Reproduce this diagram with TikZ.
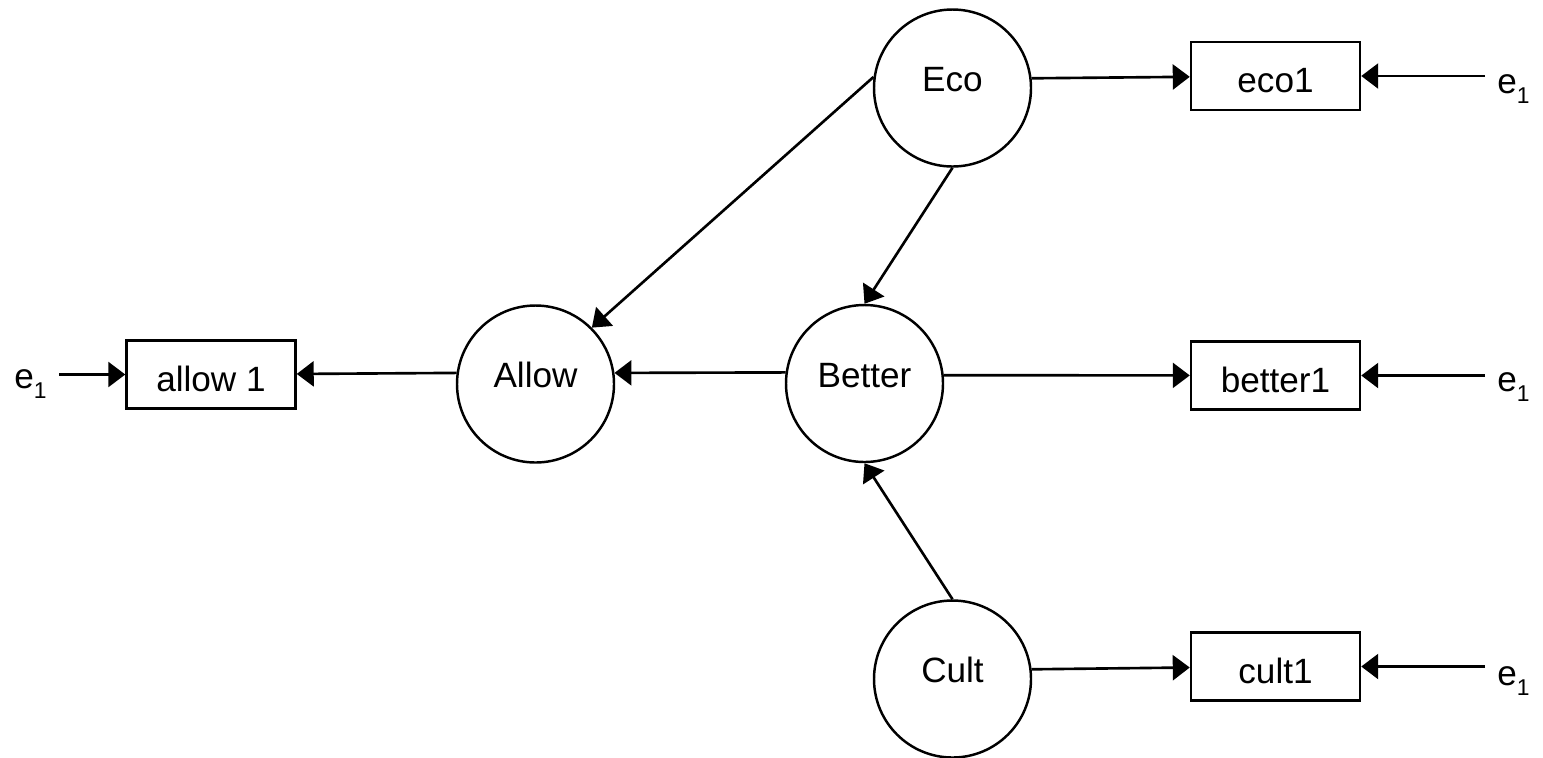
\documentclass[tikz,border=0pt]{standalone}
\usepackage{fontspec}
\setmainfont{Liberation Sans}
\usetikzlibrary{arrows.meta}

\newcommand{\errsub}[1]{\raisebox{-0.3em}{\fontsize{13}{15}\selectfont #1}}

\begin{document}
\begin{tikzpicture}[
        latent/.style={draw, circle, line width=1.4pt, minimum size=3.14cm, inner sep=0pt, text height=0.5cm, text depth=0.36cm},
        obs/.style={draw, rectangle, line width=1.4pt, minimum width=3.38cm, minimum height=1.36cm, inner sep=0pt, text height=0.76cm, text depth=0.1cm},
        elabel/.style={inner sep=0.24cm},
        arr/.style={line width=1.5pt, -{Triangle[length=0.34cm, width=0.5cm]}}
    ]
            \useasboundingbox (0,0) rectangle (30.86,-15.14);
            \fontsize{20}{24}\selectfont

            % latent variables
            \node[latent] (Eco) at (19.05, -1.76) {Eco};
            \node[latent] (Allow) at (10.71, -7.68) {Allow};
            \node[latent] (Better) at (17.29, -7.67) {Better};
            \node[latent] (Cult) at (19.05, -13.58) {Cult};

            % indicators
            \node[obs] (eco1) at (25.51, -1.52) {eco1};
            \node[obs] (better1) at (25.51, -7.51) {better1};
            \node[obs] (cult1) at (25.51, -13.33) {cult1};
            \node[obs] (allow1) at (4.22, -7.49) {allow 1};

            % error terms
            \node[elabel, anchor=base west] (eEco) at (29.70, -1.86) {e\errsub{1}};
            \node[elabel, anchor=base west] (eBetter) at (29.70, -7.82) {e\errsub{1}};
            \node[elabel, anchor=base west] (eCult) at (29.70, -13.70) {e\errsub{1}};
            \node[elabel, anchor=base east] (eAllow) at (1.18, -7.76) {e\errsub{1}};

            \draw[arr] (Eco.172) -- (Allow.45);
            \draw[arr] (Eco.south) -- (Better.north);
            \draw[arr] (Cult.north) -- (Better.south);
            \draw[arr] (Better.172) -- (Allow.8);
            \draw[arr] (Allow.172) -- (allow1);

            \draw[arr] (Eco.7) -- (eco1);
            \draw[arr] (Better.6) -- (better1);
            \draw[arr] (Cult.7) -- (cult1);

            \draw[arr] (eEco.west |- eco1) -- (eco1);
            \draw[arr] (eBetter.west |- better1) -- (better1);
            \draw[arr] (eCult.west |- cult1) -- (cult1);
            \draw[arr] (eAllow.east |- allow1) -- (allow1);
        \end{tikzpicture}
\end{document}
